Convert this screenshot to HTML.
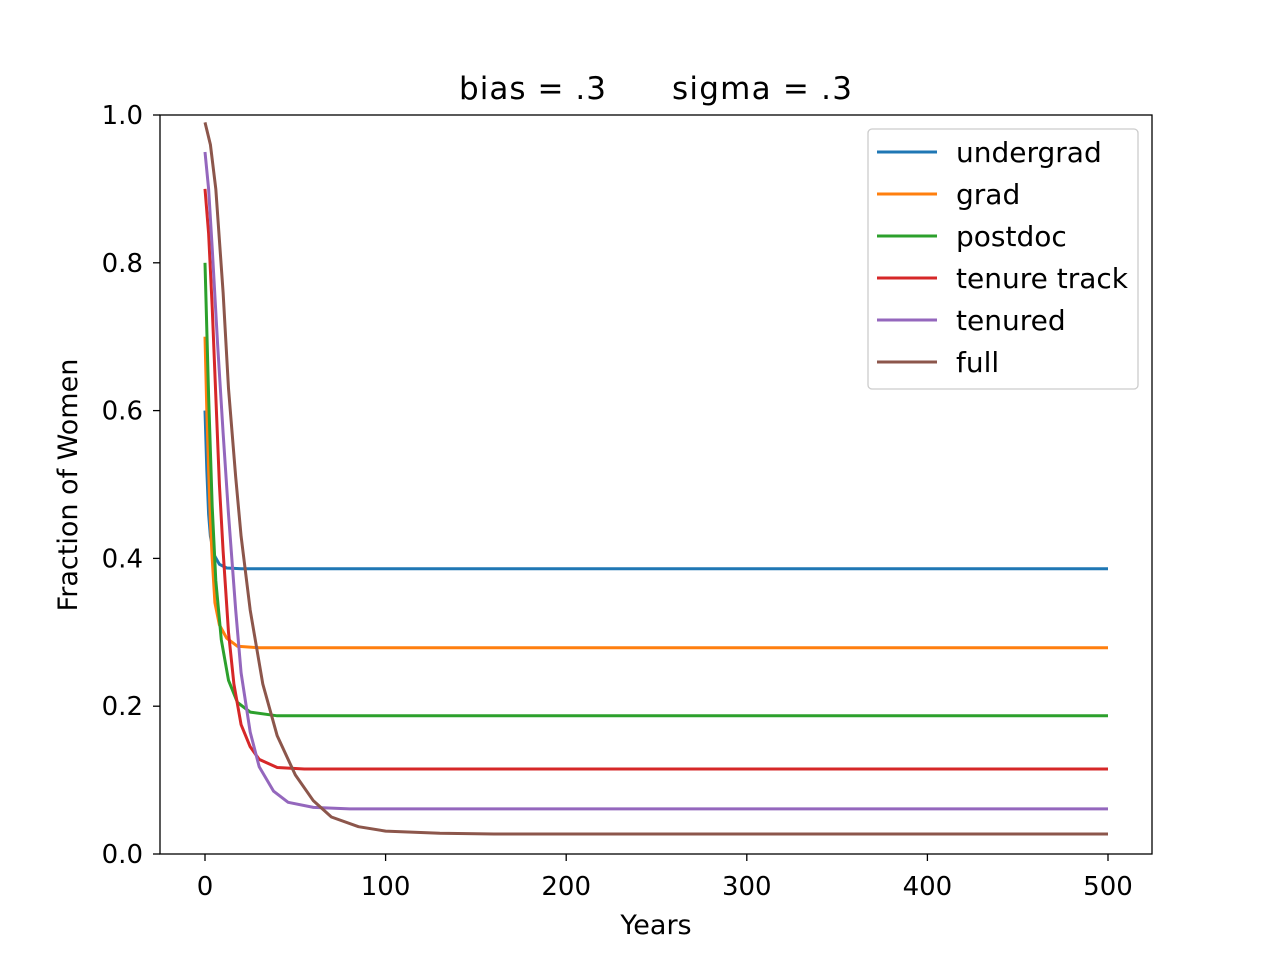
<!DOCTYPE html>
<html><head><meta charset="utf-8"><style>
body{margin:0;background:#fff}
svg{display:block;font-family:"DejaVu Sans","Liberation Sans",sans-serif}
</style></head><body>
<svg id="chart" width="1280" height="960">
<rect width="1280" height="960" fill="#fff"/>
<g id="plot"></g>
<rect x="160" y="115" width="992" height="739" fill="none" stroke="#000" stroke-width="1.3"/>
<g id="ticks" fill="#000"></g>
<text x="459" y="99" style="font-size:31px" textLength="147">bias = .3</text>
<text x="672" y="99" style="font-size:31px" textLength="180">sigma = .3</text>
<text x="656" y="934" style="font-size:27px" text-anchor="middle">Years</text>
<text x="77" y="485" style="font-size:27px" text-anchor="middle" transform="rotate(-90 77 485)">Fraction of Women</text>
<g id="legend"></g>
</svg>
<script>
const seriesNames=["undergrad","grad","postdoc","tenure track","tenured","full"];
const colors=["#1f77b4","#ff7f0e","#2ca02c","#d62728","#9467bd","#8c564b"];
const undergradYears=[0,1,2,3,5,8,12,20,500];
const undergradVals=[0.6,0.52,0.46,0.43,0.405,0.392,0.387,0.386,0.386];
const gradYears=[0,1,2,3,4,5.5,8,12,18,30,500];
const gradVals=[0.7,0.6,0.52,0.45,0.4,0.34,0.31,0.292,0.281,0.279,0.279];
const postdocYears=[0,2,4,6,9,13,18,25,40,500];
const postdocVals=[0.8,0.62,0.47,0.37,0.29,0.235,0.205,0.192,0.187,0.187];
const ttYears=[0,2,4,6,8,10,13,16,20,25,30,40,55,500];
const ttVals=[0.9,0.84,0.74,0.62,0.5,0.41,0.3,0.23,0.175,0.145,0.128,0.117,0.115,0.115];
const tenuredYears=[0,2,4,7,10,13,17,20,25,30,38,46,60,80,500];
const tenuredVals=[0.95,0.9,0.82,0.69,0.57,0.46,0.33,0.245,0.165,0.118,0.085,0.07,0.063,0.061,0.061];
const fullYears=[0,3,6,10,13,17,20,25,32,40,50,60,70,85,100,130,160,500];
const fullVals=[0.99,0.96,0.9,0.76,0.63,0.51,0.43,0.33,0.23,0.16,0.107,0.072,0.05,0.037,0.031,0.028,0.027,0.027];
const xTicks=[0,100,200,300,400,500];
const yTicks=[0.0,0.2,0.4,0.6,0.8,1.0];
const allYears=[undergradYears,gradYears,postdocYears,ttYears,tenuredYears,fullYears];
const allVals=[undergradVals,gradVals,postdocVals,ttVals,tenuredVals,fullVals];
const NS="http://www.w3.org/2000/svg";
function xs(v){return 205+(v-0)*(1108-205)/500;}
function ys(v){return 854-v*739;}
const plot=document.getElementById('plot');
allYears.forEach((yrs,i)=>{
  const p=document.createElementNS(NS,'polyline');
  p.setAttribute('points',yrs.map((y,j)=>xs(y).toFixed(1)+','+ys(allVals[i][j]).toFixed(1)).join(' '));
  p.setAttribute('fill','none');p.setAttribute('stroke',colors[i]);p.setAttribute('stroke-width','3');
  p.setAttribute('stroke-linejoin','round');
  
  
  plot.appendChild(p);
});
const tk=document.getElementById('ticks');
xTicks.forEach(t=>{
  const l=document.createElementNS(NS,'line');
  l.setAttribute('x1',xs(t));l.setAttribute('x2',xs(t));l.setAttribute('y1',854);l.setAttribute('y2',861);l.setAttribute('stroke','#000');l.setAttribute('stroke-width','1.3');
  
  
  tk.appendChild(l);
  const tx=document.createElementNS(NS,'text');
  tx.setAttribute('x',xs(t));tx.setAttribute('y',895);tx.setAttribute('text-anchor','middle');tx.setAttribute('style','font-size:26px');tx.textContent=t;
  
  
  tk.appendChild(tx);
});
yTicks.forEach(t=>{
  const l=document.createElementNS(NS,'line');
  l.setAttribute('x1',153);l.setAttribute('x2',160);l.setAttribute('y1',ys(t));l.setAttribute('y2',ys(t));l.setAttribute('stroke','#000');l.setAttribute('stroke-width','1.3');
  
  
  tk.appendChild(l);
  const tx=document.createElementNS(NS,'text');
  tx.setAttribute('x',143);tx.setAttribute('y',ys(t)+9);tx.setAttribute('text-anchor','end');tx.setAttribute('style','font-size:26px');tx.textContent=t.toFixed(1);
  
  
  tk.appendChild(tx);
});
const lg=document.getElementById('legend');
const box=document.createElementNS(NS,'rect');
box.setAttribute('x',868);box.setAttribute('y',129);box.setAttribute('width',270);box.setAttribute('height',260);box.setAttribute('rx',4);
box.setAttribute('fill','#fff');box.setAttribute('stroke','#ccc');box.setAttribute('stroke-width','1.3');


lg.appendChild(box);
seriesNames.forEach((n,i)=>{
  const y=152+i*42;
  const l=document.createElementNS(NS,'line');
  l.setAttribute('x1',877);l.setAttribute('x2',937);l.setAttribute('y1',y);l.setAttribute('y2',y);l.setAttribute('stroke',colors[i]);l.setAttribute('stroke-width','3');
  
  
  lg.appendChild(l);
  const t=document.createElementNS(NS,'text');
  t.setAttribute('x',956);t.setAttribute('y',y+10);t.setAttribute('style','font-size:28px');t.textContent=n;
  
  
  lg.appendChild(t);
});
</script>
</body></html>
